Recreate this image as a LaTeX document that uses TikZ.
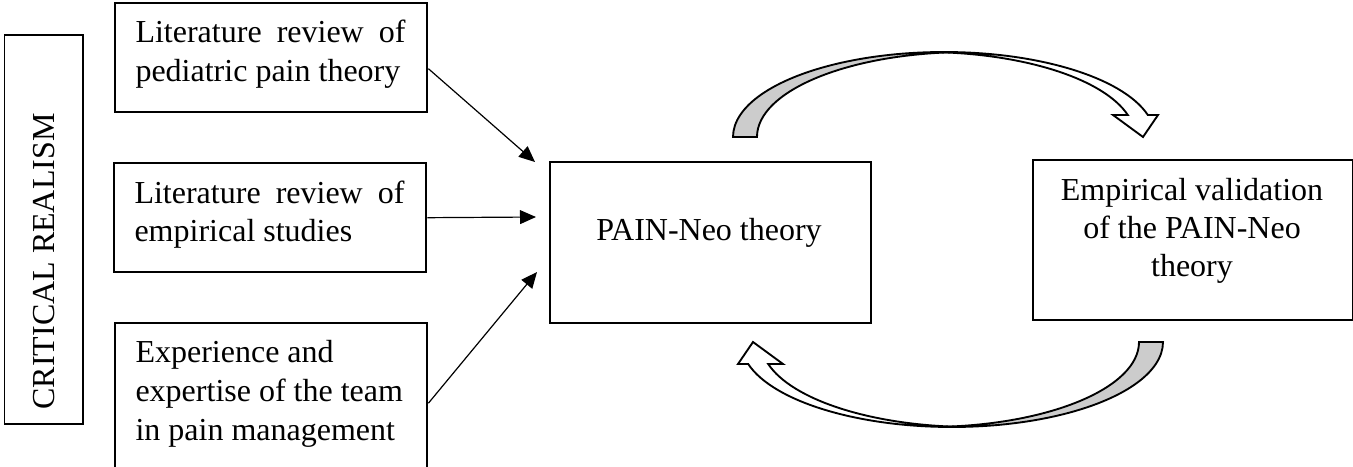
\documentclass[tikz,border=0pt]{standalone}
\usepackage{fontspec}
\setmainfont{Liberation Serif}
\usetikzlibrary{arrows.meta}
\tikzset{
  box/.style={draw, line width=0.9pt, inner sep=0pt, anchor=north west},
  crbox/.style={draw, line width=0.6pt, inner sep=0pt, anchor=north west},
  txt/.style={inner sep=0pt, anchor=base west, font=\fontsize{12}{14}\selectfont},
  ctxt/.style={inner sep=0pt, anchor=base, font=\fontsize{12}{14}\selectfont},
  conn/.style={line width=0.45pt, -{Triangle[length=6pt,width=5.2pt]}},
  curvarrow/.pic={
    \draw[line width=0.7pt, fill=gray!40]
      (-211,0) arc[start angle=180,end angle=86.74,x radius=211,y radius=85]
      arc[start angle=93.26,end angle=180,x radius=211,y radius=85] -- cycle;
    \draw[line width=0.7pt, fill=white]
      (-10,84.9) arc[start angle=92.72,end angle=15,x radius=211,y radius=85]
      -- (214,22) -- (199,0) -- (169,22) -- (183.8,22)
      arc[start angle=15,end angle=87.28,x radius=211,y radius=85] -- cycle;
  }
}
\begin{document}
\begin{tikzpicture}[x=0.375pt,y=0.375pt]
\useasboundingbox (0,0) rectangle (1353,-467);
\clip (0,0) rectangle (1353,-467);
% boxes
\node[crbox, minimum width=29.44pt, minimum height=145.875pt] (cr) at (3.5,-34) {};
\node[box, minimum width=117pt, minimum height=40.875pt] (b1) at (114,-2) {};
\node[box, minimum width=117pt, minimum height=40.875pt] (b2) at (113,-162) {};
\node[box, minimum width=117pt, minimum height=60pt] (b3) at (114,-322) {};
\node[box, minimum width=120.375pt, minimum height=60.375pt] (pain) at (549,-161) {};
\node[box, minimum width=120pt, minimum height=60pt] (emp) at (1032,-159) {};
% texts
\node[txt, rotate=90] (crt) at (54,-410) {CRITICAL REALISM};
\node[txt] (b1l1) at (135,-43) {\makebox[101.25pt][s]{Literature review of}};
\node[txt] (b1l2) at (135,-82) {pediatric pain theory};
\node[txt] (b2l1) at (134,-203) {\makebox[101.25pt][s]{Literature review of}};
\node[txt] (b2l2) at (134,-241) {empirical studies};
\node[txt] (b3l1) at (135,-362) {Experience and};
\node[txt] (b3l2) at (135,-401) {expertise of the team};
\node[txt] (b3l3) at (135,-440) {in pain management};
\node[ctxt] (paint) at (709,-240) {PAIN-Neo theory};
\node[ctxt] (empl1) at (1192,-200) {Empirical validation};
\node[ctxt] (empl2) at (1192,-238) {of the PAIN-Neo};
\node[ctxt] (empl3) at (1192,-276) {theory};
% connectors
\coordinate (t1) at (535,-162);
\coordinate (t2) at (536,-217);
\coordinate (t3) at (537,-272);
\draw[conn] (b1.-4.58) -- (t1);
\draw[conn] (b2.east) -- (t2);
\draw[conn] (b3.east) -- (t3);
% curved arrows
\pic (arrtop) at (944,-137) {curvarrow};
\pic[rotate=180] (arrbot) at (952,-342) {curvarrow};
\end{tikzpicture}
\end{document}
